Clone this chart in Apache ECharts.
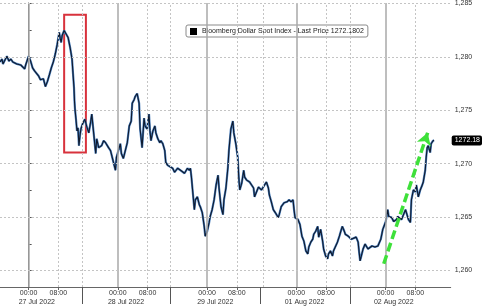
<!DOCTYPE html>
<html><head><meta charset="utf-8">
<script src="https://cdn.jsdelivr.net/npm/echarts@6/dist/echarts.min.js"></script>
<style>html,body{margin:0;padding:0;background:#fff}#c{width:485px;height:306px}</style>
</head><body><div id="c"></div>
<script>
// hours from 27 Jul 2022 00:00 on the chart's trading-time scale (weekend removed)
const hours = [-7.69,-7.16,-6.90,-6.37,-5.84,-5.31,-4.78,-4.24,-3.71,-3.18,-2.65,-2.12,-1.59,-1.06,-0.80,-0.27,0,0.53,1.06,1.59,2.12,2.65,3.18,3.45,3.98,4.51,5.04,5.57,6.10,6.63,7.16,7.69,8.22,8.49,8.75,9.02,9.55,10.08,10.61,11.14,11.67,11.94,12.20,12.34,12.47,12.73,13.00,13.27,13.53,13.80,14.06,14.59,15.12,15.65,16.18,16.71,16.98,17.51,18.04,18.31,18.84,19.63,20.16,20.69,21.49,22.02,22.82,23.35,23.61,24.14,24.67,24.94,25.47,26.00,26.53,27.06,27.59,27.86,28.39,28.65,29.18,29.71,29.98,30.24,30.51,31.04,31.31,31.84,32.37,32.63,32.90,33.43,33.96,34.22,34.75,35.28,35.55,36.08,36.61,36.88,37.41,37.94,38.73,39.26,40.06,40.86,41.39,41.92,42.71,43.24,43.51,43.78,44.04,44.57,44.84,45.37,45.90,46.16,46.69,47.22,47.49,48.02,48.55,48.82,49.35,49.88,50.41,50.94,51.20,51.73,52.26,52.53,53.06,53.59,53.86,54.39,54.92,55.18,55.71,56.24,56.51,56.78,57.31,57.84,58.10,58.63,59.43,60.49,60.75,61.28,61.81,62.61,63.14,63.94,64.47,64.73,65.26,65.79,66.33,67.12,67.39,67.92,68.71,69.51,70.04,70.57,71.10,71.37,71.63,72.43,72.96,73.49,74.02,74.55,75.08,75.35,75.88,76.41,76.67,77.20,77.73,78.00,78.53,79.06,79.33,79.86,80.39,80.65,81.18,81.71,81.98,82.51,83.04,83.57,84.10,84.36,84.89,85.16,85.96,86.75,87.28,88.08,88.61,88.87,89.14,89.41,89.94,90.47,91.26,92.33,93.12,93.92,94.71,95.24,96.04,96.57,96.84,97.63,98.16,98.96,99.22,99.75,100.28,100.81,101.35,101.88,102.14,102.67,102.94,103.47,104.00,104.26,104.79,105.32,105.85,106.12,106.65,106.91,107.18,107.44,107.98,108.24,108.77,109.04];
const prices = [1279.52,1279.80,1279.34,1279.70,1280.07,1279.61,1279.80,1279.52,1279.61,1279.34,1279.43,1279.24,1279.15,1278.87,1279.24,1279.80,1280.07,1279.61,1278.97,1278.69,1278.51,1278.23,1277.86,1277.68,1277.95,1277.22,1277.68,1278.32,1278.97,1279.52,1280.26,1281.18,1282.29,1281.73,1281.36,1282.01,1282.47,1282.29,1281.82,1280.90,1279.80,1278.41,1277.12,1275.83,1275.10,1274.17,1273.07,1273.35,1271.69,1272.61,1273.25,1273.81,1274.17,1273.44,1272.88,1273.99,1274.64,1272.79,1270.95,1272.33,1271.50,1271.69,1272.15,1271.96,1271.50,1271.23,1270.12,1269.38,1270.58,1271.23,1271.87,1270.95,1270.49,1271.23,1271.96,1273.53,1273.99,1275.65,1276.02,1276.29,1276.57,1275.65,1273.25,1272.42,1271.50,1274.27,1273.53,1273.25,1274.64,1273.07,1272.15,1273.07,1273.53,1272.88,1272.33,1271.96,1272.15,1271.87,1271.23,1270.12,1269.84,1269.84,1269.57,1269.20,1269.57,1269.38,1269.20,1269.10,1269.57,1269.38,1269.57,1268.74,1267.72,1265.70,1266.62,1266.89,1266.16,1265.97,1265.42,1264.13,1263.21,1263.67,1264.50,1265.05,1265.70,1266.62,1268.00,1268.92,1267.72,1265.97,1265.23,1266.62,1267.72,1269.66,1271.23,1273.25,1273.99,1272.88,1271.87,1270.58,1268.74,1267.54,1268.18,1269.38,1268.74,1268.46,1268.28,1267.72,1266.89,1267.35,1267.81,1267.54,1267.72,1268.28,1267.72,1267.08,1266.43,1265.70,1265.42,1264.96,1265.23,1265.97,1266.34,1266.43,1266.62,1266.43,1266.62,1265.70,1264.96,1264.77,1264.31,1263.21,1262.75,1261.83,1261.55,1262.20,1262.65,1262.93,1263.39,1263.67,1264.13,1263.12,1263.85,1262.75,1262.01,1261.36,1261.09,1261.55,1261.83,1261.36,1261.83,1261.73,1262.65,1263.21,1263.85,1264.13,1263.67,1263.39,1263.21,1262.93,1262.75,1263.12,1262.65,1261.73,1260.90,1261.27,1262.01,1262.47,1262.01,1262.29,1262.20,1262.29,1262.93,1263.85,1264.59,1265.70,1265.05,1264.96,1264.59,1264.77,1265.05,1265.23,1264.77,1264.59,1265.70,1265.88,1264.77,1264.50,1266.62,1267.54,1267.35,1268.00,1266.89,1267.54,1268.00,1268.28,1269.38,1270.58,1271.50,1271.69,1271.04,1271.87,1272.15,1272.18];

const seriesName = 'Bloomberg Dollar Spot Index - Last Price 1272.1802';
const lastPrice = 1272.1802;
const timeTicks = [0, 8, 24, 32, 48, 56, 72, 80, 96, 104];
const dateLabelPos = [2.2, 26.2, 50.2, 74.2, 98.2];
const dateLabels = ['27 Jul 2022', '28 Jul 2022', '29 Jul 2022', '01 Aug 2022', '02 Aug 2022'];
const midnightLines = [0, 24, 48, 72, 96];
const dottedLines = [8, 14.3, 32, 38.2, 56, 63, 80, 86.4, 104];
const daySeparators = [14.3, 38.2, 62.3, 86.4];
const yLabels = [1260, 1265, 1270, 1275, 1280, 1285];
const yTicks = [1260, 1262.5, 1265, 1267.5, 1270, 1272.5, 1275, 1277.5, 1280, 1282.5, 1285];
const boxCorners = [[9.55, 1283.94], [15.4, 1271.04]];
const arrowEnds = [[95.5, 1260.63], [107.3, 1272.9]];

const X_MIN = -7.7, X_MAX = 113.5, Y_MIN = 1258.45, Y_MAX = 1285.05;
const font = 'Liberation Sans, Arial, sans-serif';

const chart = echarts.init(document.getElementById('c'), null, {renderer: 'canvas'});
const lineData = hours.map((h, i) => [h, prices[i]]);

chart.setOption({
  animation: false,
  backgroundColor: '#fff',
  grid: {left: 0, right: 28, top: 0, bottom: 17, containLabel: false},
  legend: {
    data: [seriesName], left: 186, top: 25,
    backgroundColor: '#fff', borderColor: '#8a8a8a', borderWidth: 1, borderRadius: 2,
    padding: [3, 4, 2, 4], itemWidth: 7, itemHeight: 7, itemGap: 4,
    icon: 'rect', itemStyle: {color: '#000'},
    textStyle: {fontSize: 7, color: '#222', fontFamily: font}
  },
  xAxis: [{
    type: 'value', min: X_MIN, max: X_MAX, position: 'bottom',
    axisLine: {show: true, lineStyle: {color: '#666', width: 1}},
    axisTick: {show: true, customValues: daySeparators, length: 17, lineStyle: {color: '#555'}},
    axisLabel: {show: true, customValues: timeTicks, margin: 3, fontSize: 7, color: '#333', fontFamily: font,
      formatter: v => (Math.round(v) % 24 === 0 ? '00:00' : '08:00')},
    splitLine: {show: false}
  }, {
    type: 'value', min: X_MIN, max: X_MAX, position: 'bottom',
    axisLine: {show: false},
    axisTick: {show: true, customValues: timeTicks, length: 3, inside: false, lineStyle: {color: '#666'}},
    axisLabel: {show: true, customValues: dateLabelPos, margin: 12, fontSize: 7, color: '#333', fontFamily: font,
      formatter: v => dateLabels[dateLabelPos.indexOf(v)]},
    splitLine: {show: false}
  }],
  yAxis: [{
    type: 'value', min: Y_MIN, max: Y_MAX, position: 'right',
    axisLine: {show: true, lineStyle: {color: '#666', width: 1}},
    axisTick: {show: true, customValues: yTicks, length: 3, lineStyle: {color: '#555'}},
    axisLabel: {show: true, customValues: yLabels, margin: 4, fontSize: 7, color: '#333', fontFamily: font},
    splitLine: {show: false}
  }, {
    type: 'value', min: Y_MIN, max: Y_MAX, position: 'right',
    axisLine: {show: false}, axisTick: {show: false},
    axisLabel: {show: true, customValues: [lastPrice], margin: 1, fontSize: 7, color: '#fff', fontFamily: font,
      backgroundColor: '#000', padding: [2, 2, 1, 3], borderRadius: 2,
      formatter: v => v.toFixed(2)},
    splitLine: {show: false}
  }],
  series: [{
    name: 'grid', type: 'line', data: [], z: 1, silent: true,
    markLine: {
      silent: true, symbol: 'none', label: {show: false}, animation: false,
      data: [
        ...midnightLines.map(v => ({xAxis: v, lineStyle: {color: '#a8a8a8', width: 1.5, type: 'solid'}})),
        ...dottedLines.map(v => ({xAxis: v, lineStyle: {color: '#c4c4c4', width: 1, type: [2, 2]}})),
        ...yLabels.map(v => ({yAxis: v, lineStyle: {color: '#c4c4c4', width: 1, type: [2, 2]}}))
      ]
    }
  }, {
    name: 'glow', type: 'line', data: lineData, z: 2, showSymbol: false, symbol: 'none',
    lineStyle: {color: '#4a7fbd', width: 2.2}, silent: true
  }, {
    name: seriesName, type: 'line', data: lineData, z: 3, showSymbol: false, symbol: 'none',
    color: '#000',
    lineStyle: {color: '#0f1a2e', width: 1.1}, silent: true,
    markArea: {
      silent: true, label: {show: false},
      itemStyle: {color: 'rgba(0,0,0,0)', borderColor: '#d8323c', borderWidth: 2},
      data: [[{coord: boxCorners[0]}, {coord: boxCorners[1]}]]
    },
    markLine: {
      silent: true, label: {show: false}, symbol: ['none', 'arrow'], symbolSize: [11, 12],
      lineStyle: {color: '#3ee03a', width: 3.5, type: [9, 4]},
      data: [[{coord: arrowEnds[0]}, {coord: arrowEnds[1]}]]
    }
  }]
});
</script></body></html>
